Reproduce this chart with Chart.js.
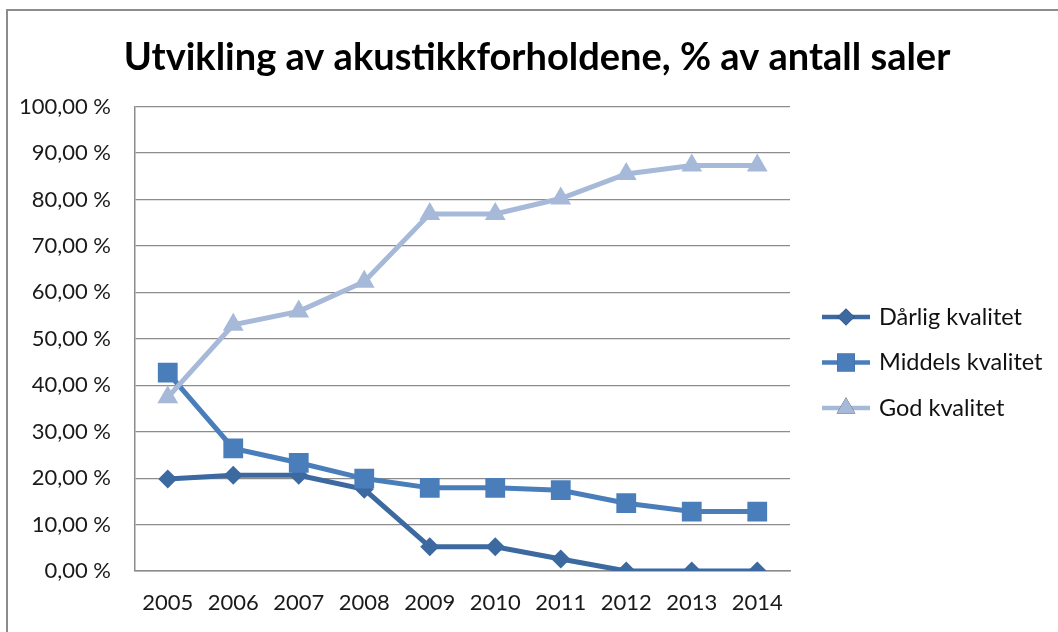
<!DOCTYPE html>
<html>
<head>
<meta charset="utf-8">
<script src="https://cdn.jsdelivr.net/npm/chart.js@4"></script>
<style>
  html, body { margin: 0; padding: 0; background: #fff; }
  #wrap { position: relative; width: 1058px; height: 632px; }
</style>
</head>
<body>
<div id="wrap"><canvas id="myChart" width="1058" height="632"></canvas></div>
<script>
const years = ['2005', '2006', '2007', '2008', '2009', '2010', '2011', '2012', '2013', '2014'];
const darlig = [19.8, 20.6, 20.6, 17.6, 5.2, 5.2, 2.6, 0, 0, 0];
const middels = [42.7, 26.4, 23.3, 19.9, 17.9, 17.9, 17.4, 14.6, 12.8, 12.8];
const god = [37.4, 53.0, 55.9, 62.3, 76.9, 76.9, 80.2, 85.5, 87.3, 87.3];
const yTicks = [0, 10, 20, 30, 40, 50, 60, 70, 80, 90, 100];

const titleText = 'Utvikling av akustikkforholdene, % av antall saler';
const seriesNames = ['Dårlig kvalitet', 'Middels kvalitet', 'God kvalitet'];
const colors = ['#3c69a0', '#4a7ebb', '#a6b9d9'];
const shapes = ['rectRot', 'rect', 'triangle'];
const radii = [9.5, 14, 12];

const fontFam = 'Lato, "Open Sans", sans-serif';

// frame, title and legend drawn by hand (legend: line with marker in the middle, like Excel)
const extras = {
    id: 'extras',
    beforeDraw(chart) {
        const c = chart.ctx;
        c.save();
        c.strokeStyle = '#8c8c8c';
        c.lineWidth = 2;
        c.beginPath();
        c.moveTo(7, 640);
        c.lineTo(7, 10);
        c.lineTo(1070, 10);
        c.stroke();
        c.restore();
    },
    afterDraw(chart) {
        const c = chart.ctx;
        c.save();
        const tb = chart.titleBlock;
        c.fillStyle = '#000';
        c.font = 'bold 38px ' + fontFam;
        c.textAlign = 'center';
        c.textBaseline = 'middle';
        c.fillText(titleText, 537, tb.top + 35 + 38 * 1.2 / 2);

        seriesNames.forEach((name, i) => {
            const ds = chart.data.datasets.find(d => d.label === name);
            const y = 317 + i * 45.5;
            c.strokeStyle = ds.borderColor;
            c.lineWidth = 4.5;
            c.beginPath();
            c.moveTo(822, y);
            c.lineTo(870, y);
            c.stroke();
            Chart.helpers.drawPoint(c, {
                pointStyle: ds.pointStyle,
                radius: ds.pointRadius * 0.9,
                rotation: 0
            }, 846, y);
            c.fillStyle = ds.pointBackgroundColor;
            c.fill();
            c.fillStyle = '#111';
            c.font = '23.5px ' + fontFam;
            c.textBaseline = 'middle';
            c.textAlign = 'left';
            c.fillText(ds.label, 879, y);
        });
        c.restore();
    }
};

// God drawn first, Dårlig last so it sits on top
const data = {
    labels: years,
    datasets: [god, middels, darlig].map((vals, k) => {
        const i = 2 - k;
        return {
            label: seriesNames[i],
            data: vals,
            borderColor: colors[i],
            backgroundColor: colors[i],
            pointBackgroundColor: colors[i],
            pointBorderColor: colors[i],
            pointBorderWidth: 0,
            pointStyle: shapes[i],
            pointRadius: radii[i],
            pointHoverRadius: radii[i],
            borderWidth: 5,
            tension: 0
        };
    })
};

const config = {
    type: 'line',
    data: data,
    options: {
        responsive: false,
        animation: false,
        layout: { padding: { left: 0, right: 268, top: 0, bottom: 0 } },
        plugins: {
            legend: { display: false },
            tooltip: { enabled: false },
            title: {
                // only reserves the space, the text is painted in extras
                display: true,
                text: titleText,
                color: 'rgba(0,0,0,0)',
                font: { family: fontFam, size: 38, weight: 'bold' },
                padding: { top: 35, bottom: 26 }
            }
        },
        scales: {
            x: {
                offset: true,
                grid: { display: false, drawTicks: false },
                border: { color: '#8c8c8c', width: 1.5 },
                ticks: {
                    color: '#1a1a1a',
                    font: { family: fontFam, size: 22 },
                    padding: 19,
                    maxRotation: 0
                },
                afterFit(scale) { scale.height = 61; }
            },
            y: {
                min: 0,
                max: 100,
                afterBuildTicks(scale) { scale.ticks = yTicks.map(v => ({ value: v })); },
                grid: { color: '#8c8c8c', lineWidth: 1.2, drawTicks: false },
                border: { color: '#8c8c8c', width: 1.5 },
                ticks: {
                    color: '#1a1a1a',
                    font: { family: fontFam, size: 22 },
                    padding: 24,
                    callback: v => v.toFixed(2).replace('.', ',') + ' %'
                },
                afterFit(scale) { scale.width = 135; }
            }
        }
    },
    plugins: [extras]
};

window.onload = function () {
    const ctx = document.getElementById('myChart').getContext('2d');
    new Chart(ctx, config);
};
</script>
</body>
</html>
